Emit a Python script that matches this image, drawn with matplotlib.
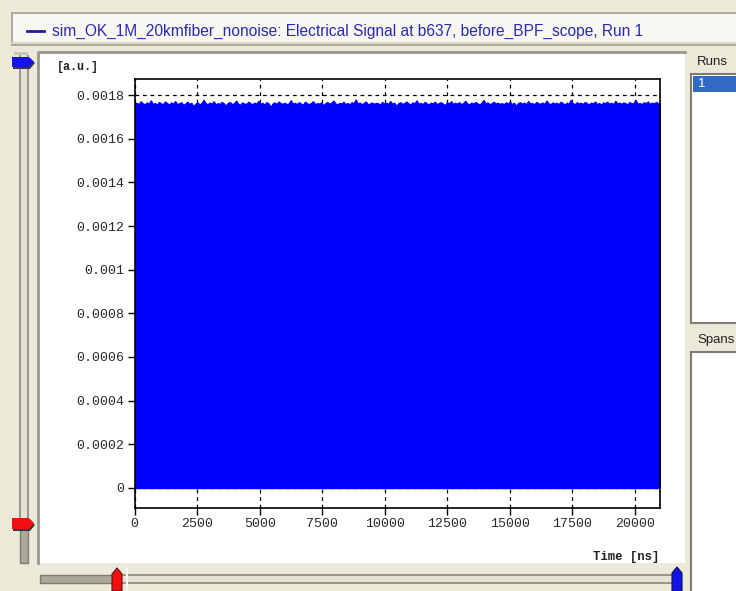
import matplotlib.pyplot as plt
import numpy as np
from matplotlib.patches import Rectangle, Polygon
from matplotlib.ticker import FixedLocator, FuncFormatter

title = 'sim_OK_1M_20kmfiber_nonoise: Electrical Signal at b637, before_BPF_scope, Run 1'
y_unit = '[a.u.]'
x_unit = 'Time [ns]'
runs = ['1']
t_end = 21000

# upper envelope of the dense signal (units of 1e-6 a.u.)
envelope = [
    1760, 1764, 1758, 1771, 1762, 1757, 1766, 1760, 1775, 1759, 1763, 1756, 1768, 1761, 1758, 1770, 1763, 1755, 1766, 1760,
    1772, 1758, 1762, 1767, 1754, 1761, 1769, 1759, 1764, 1748, 1760, 1766, 1757, 1763, 1778, 1762, 1758, 1765, 1760, 1771,
    1756, 1763, 1759, 1768, 1761, 1752, 1764, 1767, 1758, 1762, 1774, 1760, 1755, 1766, 1761, 1758, 1769, 1763, 1757, 1765,
    1760, 1773, 1759, 1764, 1756, 1767, 1762, 1745, 1761, 1766, 1758, 1770, 1763, 1759, 1765, 1757, 1762, 1776, 1760, 1764,
    1758, 1767, 1761, 1755, 1769, 1762, 1758, 1764, 1771, 1757, 1763, 1760, 1766, 1753, 1762, 1768, 1759, 1765, 1774, 1761,
    1757, 1764, 1760, 1769, 1758, 1763, 1756, 1767, 1762, 1779, 1760, 1765, 1758, 1763, 1770, 1757, 1761, 1766, 1759, 1764,
    1762, 1756, 1768, 1761, 1765, 1758, 1772, 1760, 1764, 1750, 1762, 1767, 1759, 1763, 1770, 1761, 1757, 1766, 1762, 1775,
    1759, 1764, 1758, 1768, 1762, 1756, 1765, 1761, 1769, 1758, 1763, 1767, 1760, 1754, 1766, 1762, 1771, 1759, 1764, 1760,
    1767, 1758, 1763, 1773, 1761, 1757, 1765, 1760, 1768, 1762, 1756, 1764, 1777, 1760, 1766, 1758, 1762, 1769, 1761, 1765,
    1759, 1763, 1757, 1766, 1761, 1770, 1758, 1764, 1751, 1762, 1767, 1760, 1765, 1758, 1772, 1761, 1763, 1757, 1768, 1762,
    1760, 1765, 1759, 1774, 1762, 1757, 1766, 1761, 1764, 1758, 1769, 1763, 1756, 1765, 1760, 1778, 1762, 1758, 1767, 1761,
    1764, 1759, 1768, 1762, 1757, 1765, 1761, 1770, 1758, 1763, 1755, 1766, 1762, 1769, 1760, 1764, 1758, 1773, 1761, 1765,
    1759, 1766, 1762, 1757, 1768, 1761, 1764, 1776, 1760, 1763, 1758, 1767, 1762, 1770, 1759, 1765, 1761, 1768, 1763, 1766,
]
x_ticks = [0, 2500, 5000, 7500, 10000, 12500, 15000, 17500, 20000]
y_ticks = [0, 0.0002, 0.0004, 0.0006, 0.0008, 0.001, 0.0012, 0.0014, 0.0016, 0.0018]

W, H = 736, 591
mono = 'Liberation Mono'
sans = 'Liberation Sans'
track_dark = '#ACA899'
track_light = '#E6E3D6'
edge = '#8A887C'

fig = plt.figure(figsize=(W / 100, H / 100), dpi=100)
fig.patch.set_facecolor('#ECE9D8')

# window chrome drawn in pixel coordinates
bg = fig.add_axes([0, 0, 1, 1])
bg.set_xlim(0, W)
bg.set_ylim(H, 0)
bg.axis('off')

# title / legend strip
bg.add_patch(Rectangle((12, 13), 740, 32, fc='#F8F7F2', ec='#A09E92', lw=1.2))
bg.plot([12, 740], [43, 43], color='#D8D5C8', lw=1.5)
bg.plot([27, 44], [31, 31], color='#1E1E9E', lw=2)
bg.text(52, 31, title, color='#2A2AB0', fontsize=11.2, family=sans, va='center')

# white plot panel
bg.add_patch(Rectangle((38, 52), 647, 511, fc='white', ec='none'))
bg.plot([38, 38, 685], [563, 52, 52], color='#9A988C', lw=2)

# left vertical slider: light above the red marker, dark below it
bg.add_patch(Rectangle((20, 56), 8, 467, fc=track_light, ec='none', zorder=1))
bg.plot([20, 20], [56, 523], color=edge, lw=1.2, zorder=1)
bg.plot([28, 28], [56, 523], color=edge, lw=1.2, zorder=1)
bg.add_patch(Rectangle((20, 523), 8, 40, fc=track_dark, ec='#7D7B70', lw=1, zorder=1))
bg.add_patch(Rectangle((14, 52), 14, 3, fc='#C8C5B8', ec='none'))

# bottom horizontal slider: dark left of the red marker, light right of it
bg.add_patch(Rectangle((40, 575), 77, 8, fc=track_dark, ec='#7D7B70', lw=1, zorder=1))
bg.add_patch(Rectangle((117, 575), 560, 8, fc=track_light, ec='none', zorder=1))
bg.plot([117, 677], [575, 575], color=edge, lw=1.2, zorder=1)
bg.plot([117, 677], [583, 583], color=edge, lw=1.2, zorder=1)
bg.plot([127, 127], [568, 591], color='#F8F7F2', lw=1.5, zorder=1.5)

# slider markers on top of the tracks
markers = [
    ([(13, 58), (30, 58), (35, 63), (30, 69), (13, 69)], '#3A3A3A', 'none'),
    ([(12, 57), (29, 57), (34, 62), (29, 67), (12, 67)], '#1414E6', 'none'),
    ([(13, 520), (30, 520), (35, 525), (30, 531), (13, 531)], '#3A3A3A', 'none'),
    ([(12, 518), (29, 518), (34, 523), (29, 529), (12, 529)], '#F01010', 'none'),
    ([(112, 591), (112, 574), (117, 568), (122, 574), (122, 591)], '#F01010', '#5A1010'),
    ([(672, 591), (672, 573), (677, 567), (682, 573), (682, 591)], '#1414E6', '#10105A'),
]
for pts, fc, ec in markers:
    bg.add_patch(Polygon(pts, fc=fc, ec=ec, lw=0.8, zorder=3))

# runs / spans side panel
bg.text(697, 62, 'Runs', fontsize=9.5, family=sans, color='#222222', va='center')
bg.add_patch(Rectangle((691, 74), 60, 249, fc='white', ec='#7F7D72', lw=1.5))
bg.add_patch(Rectangle((693, 76), 50, 16, fc='#316AC5', ec='none'))
bg.text(698, 84, runs[0], fontsize=9.5, family=sans, color='white', va='center')
bg.text(697, 340, 'Spans', fontsize=9.5, family=sans, color='#222222', va='center')
bg.add_patch(Rectangle((691, 352), 60, 245, fc='white', ec='#7F7D72', lw=1.5))

# axis units
bg.text(57, 67, y_unit, fontsize=8.5, family=mono, color='#222222', va='center', fontweight='bold')
bg.text(659, 557, x_unit, fontsize=8.8, family=mono, color='#222222', va='center', ha='right', fontweight='bold')

# main plot area
left, right, top, bottom = 134.6, 660, 78.5, 508
ax = fig.add_axes([left / W, 1 - bottom / H, (right - left) / W, (bottom - top) / H])
ax.set_facecolor('white')

t = np.linspace(0, t_end, len(envelope))
ax.fill_between(t, 0, np.array(envelope) * 1e-6, color='#0000FF', lw=1.0, zorder=2)

ax.set_xlim(0, t_end)
ax.set_ylim(-0.0000917, 0.0018757)
ax.xaxis.set_major_locator(FixedLocator(x_ticks))
ax.yaxis.set_major_locator(FixedLocator(y_ticks))
ax.yaxis.set_major_formatter(FuncFormatter(lambda v, p: f'{round(v, 6):g}'))
ax.xaxis.set_major_formatter(FuncFormatter(lambda v, p: f'{int(v)}'))
ax.grid(True, ls=(0, (3, 3)), color='black', lw=0.9, zorder=1)
ax.set_axisbelow(True)
ax.tick_params(direction='out', length=5, width=1, pad=2.5, labelsize=9.5, labelcolor='#2A2A2A', colors='black')
for lab in ax.get_xticklabels() + ax.get_yticklabels():
    lab.set_family(mono)
for s in ax.spines.values():
    s.set_linewidth(1.2)
    s.set_color('black')

fig.savefig('out.png', dpi=100, facecolor=fig.get_facecolor())
